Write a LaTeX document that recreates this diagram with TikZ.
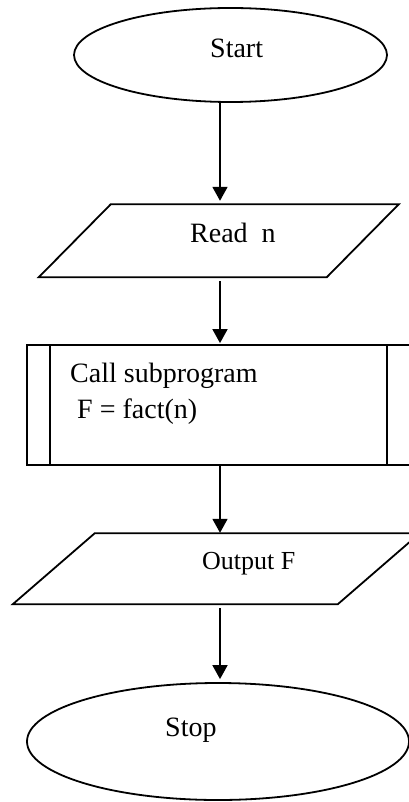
\documentclass[tikz,border=0pt]{standalone}
\usepackage{fontspec}
\setmainfont{Liberation Serif}
\usetikzlibrary{shapes.geometric,arrows.meta}
\tikzset{
  shp/.style={draw=black, line width=1.8pt},
  term/.style={shp, ellipse, inner sep=0pt},
  lbl/.style={anchor=base west, inner sep=0pt, font=\fontsize{28}{36}\selectfont},
  slbl/.style={anchor=base west, inner sep=0pt, font=\fontsize{26}{32}\selectfont},
  arr/.style={line width=1.8pt, -{Triangle[length=14pt,width=15pt]}},
  ghost/.style={draw=none, inner sep=0pt}
}
\begin{document}
\begin{tikzpicture}[x=1pt,y=-1pt]
\useasboundingbox (0,0) rectangle (409,802);
\clip (0,0) rectangle (409,802);
\fill[white] (0,0) rectangle (409,802);
\coordinate (axis) at (220,0);

% Start
\node[term, minimum width=313pt, minimum height=94pt] (start) at (230.5,55) {};
\node[lbl] (tstart) at (210,58) {Start};

% Read n
\node[ghost, minimum width=360pt, minimum height=73pt] (read) at (219,240.5) {};
\draw[shp, line join=miter] (read.south west) -- ++(72,-73) -- ++(288,0) -- ++(-72,73) -- cycle;
\node[lbl] (tread) at (190,243) {Read\ \ n};

% Subprogram
\node[shp, rectangle, minimum width=400pt, minimum height=120pt, inner sep=0pt] (sub) at (227,405) {};
\draw[shp] ([xshift=24pt]sub.north west) -- ([xshift=24pt]sub.south west);
\draw[shp] (387,0 |- sub.north) -- (387,0 |- sub.south);
\node[lbl] (tcall) at (70,382) {Call subprogram};
\node[lbl] (tfact) at (77,418) {F = fact(n)};

% Output F
\node[ghost, minimum width=407pt, minimum height=71pt] (out) at (216.5,568.5) {};
\draw[shp, line join=miter] (out.south west) -- ++(82,-71) -- ++(325,0) -- ++(-82,71) -- cycle;
\node[slbl] (tout) at (202,569) {Output F};

% Stop
\node[term, minimum width=382pt, minimum height=117pt] (stop) at (218,741.5) {};
\node[lbl] (tstop) at (165,736) {Stop};

% connectors
\draw[arr, shorten >=3pt] (start.south -| axis) -- (read.north -| axis);
\draw[arr, shorten <=4pt, shorten >=1pt] (read.south -| axis) -- (sub.north -| axis);
\draw[arr] (sub.south -| axis) -- (out.north -| axis);
\draw[arr, shorten <=4pt, shorten >=3pt] (out.south -| axis) -- (stop.north -| axis);
\end{tikzpicture}
\end{document}
